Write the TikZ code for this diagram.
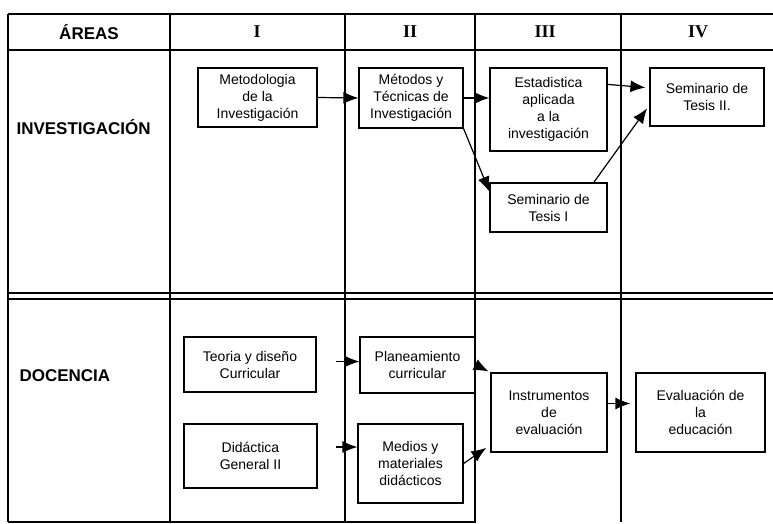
\documentclass[tikz,border=0pt]{standalone}
\usepackage{fontspec}
\setmainfont{Liberation Sans}
\newfontfamily\romanfont{Liberation Serif}
\usetikzlibrary{arrows.meta}

\begin{document}
\begin{tikzpicture}[x=1pt, y=-1pt,
		caja/.style={draw, line width=1.2pt, align=center, inner sep=0pt,
			font=\fontsize{14}{17}\selectfont},
		flecha/.style={-{Latex[length=15pt,width=12pt]}, line width=1.2pt},
		area/.style={anchor=west, font=\fontsize{17}{20}\selectfont\bfseries},
		periodo/.style={font=\fontsize{18}{20}\selectfont\romanfont\bfseries}]
		\useasboundingbox (0,0) rectangle (773,524);

		% Table frame.
		\draw[line width=2.2pt] (8,14) -- (773,14)
				(8,50) -- (773,50);
		\draw[line width=1.2pt] (8,293) -- (773,293)
				(8,299) -- (773,299)
				(8,522) -- (476,522);
		\draw[line width=1.4pt] (8,14) -- (8,522)
				(170,14) -- (170,522)
				(345,14) -- (345,522)
				(475,14) -- (475,522)
				(621,14) -- (621,522);

		% Header row.
		\node[font=\fontsize{17}{20}\selectfont\bfseries] (areas) at (89,32) {ÁREAS};
		\node[periodo] (p1) at (257,32) {I};
		\node[periodo] (p2) at (410,32) {II};
		\node[periodo] (p3) at (545,32) {III};
		\node[periodo] (p4) at (698,32) {IV};

		% Areas.
		\node[area] (inv) at (13,127) {INVESTIGACIÓN};
		\node[area] (doc) at (16,376) {DOCENCIA};

		% Investigacion courses.
		\node[caja, minimum width=119pt, minimum height=59pt] (metod) at (257.5,97.5)
			{Metodologia\\de la\\Investigación};
		\node[caja, minimum width=104pt, minimum height=60pt] (metodos) at (411,98)
			{Métodos y\\Técnicas de\\Investigación};
		\node[caja, minimum width=117pt, minimum height=83pt] (estad) at (548.5,109.5)
			{Estadistica\\aplicada\\a la\\investigación};
		\node[caja, minimum width=117pt, minimum height=49pt] (tesisI) at (548.5,207.5)
			{Seminario de\\Tesis I};
		\node[caja, minimum width=114pt, minimum height=58pt] (tesisII) at (707,97)
			{Seminario de\\Tesis II.};

		\draw[flecha] (metod.east) -- (metodos.west);
		\draw[flecha] (metodos.east) -- (metodos.east -| estad.west);
		\draw[flecha] (metodos.south east) -- (tesisI.165);
		\draw[flecha, shorten >=4pt] (estad.23) -- (tesisII.171);
		\draw[flecha, shorten >=4pt] (tesisI.29) -- (tesisII.188);

		% Docencia courses.
		\node[caja, minimum width=132pt, minimum height=55pt] (teoria) at (250,364.5)
			{Teoria y diseño\\Curricular};
		\node[caja, minimum width=133pt, minimum height=64pt] (didac) at (250.5,456)
			{Didáctica\\General II};
		\node[caja, minimum width=115pt, minimum height=56pt] (plan) at (417.5,365)
			{Planeamiento\\curricular};
		\node[caja, minimum width=105pt, minimum height=79pt] (medios) at (410.5,463.5)
			{Medios y\\materiales\\didácticos};
		\node[caja, minimum width=116pt, minimum height=79pt] (instr) at (549,412.5)
			{Instrumentos\\de\\evaluación};
		\node[caja, minimum width=129pt, minimum height=79pt] (evalua) at (700.5,412.5)
			{Evaluación de\\la\\educación};

		\draw[flecha, shorten <=19pt] ([yshift=3pt]teoria.east) -- ([yshift=3pt]teoria.east -| plan.west);
		\draw[flecha, shorten <=18pt] ([yshift=9pt]didac.east) -- ([yshift=9pt]didac.east -| medios.west);
		\draw[flecha, shorten >=2pt] (plan.east) -- (instr.north west);
		\draw[flecha, shorten >=5pt] (medios.east) -- (instr.209);
		\draw[flecha, shorten >=5pt] ([yshift=9pt]instr.east) -- ([yshift=9pt]evalua.west);
	\end{tikzpicture}
\end{document}
